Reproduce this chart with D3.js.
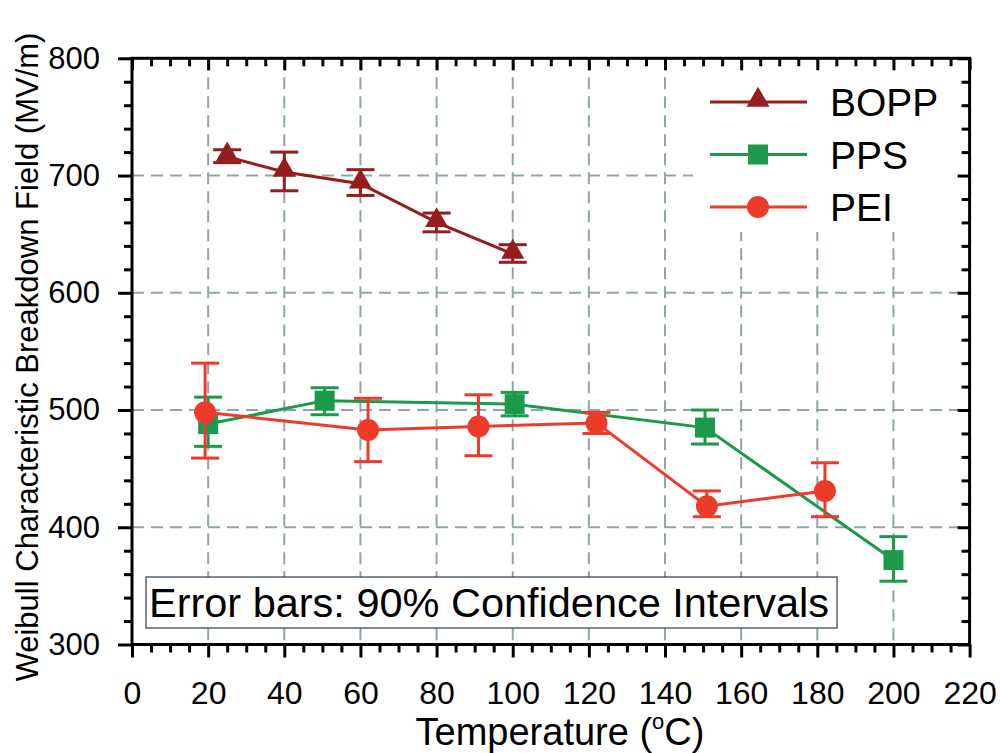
<!DOCTYPE html>
<html>
<head>
<meta charset="utf-8">
<script src="https://cdn.jsdelivr.net/npm/d3@7"></script>
<style>
  body { margin: 0; background: #fff; }
  svg { display: block; font-family: "Liberation Sans", Arial, sans-serif; }
</style>
</head>
<body>
<svg id="chart" width="1000" height="753"></svg>
<script>
// data
const boppT = [25, 40, 60, 80, 100]
const boppE = [716, 703, 693, 660, 633]
const boppLo = [711, 687, 683, 652, 626]
const boppHi = [722, 720, 705, 668, 641]

const ppsT = [20, 50.6, 100.5, 150.5, 200]
const ppsE = [488, 508, 505, 485, 372]
const ppsLo = [469, 496, 495, 471, 354]
const ppsHi = [511, 519, 515, 500, 392]

const peiT = [19.2, 62, 91, 122, 151, 182]
const peiE = [498, 483, 486, 489, 418, 431]
const peiLo = [459, 456, 461, 480, 409, 409]
const peiHi = [540, 510, 513, 498, 431, 455]

const xTicks = [0, 20, 40, 60, 80, 100, 120, 140, 160, 180, 200, 220]
const yTicks = [300, 400, 500, 600, 700, 800]

const seriesNames = ["BOPP", "PPS", "PEI"]
const seriesColors = ["#951c1f", "#1b9a4b", "#ee3a2b"]

let svg = d3.select("#chart")

let pLeft = 132, pRight = 969.6, pTop = 58.3, pBottom = 644.5

const x = d3.scaleLinear().domain([0, 220]).range([pLeft, pRight])
const y = d3.scaleLinear().domain([300, 800]).range([pBottom, pTop])

// GRID
let grid = svg.append("g").attr("stroke", "#8fa6a6").attr("stroke-width", 2)
    .attr("stroke-dasharray", "12,7")
grid.selectAll(".vg").data(xTicks.slice(1, -1)).enter().append("line")
    .attr("x1", d => x(d)).attr("x2", d => x(d)).attr("y1", pTop).attr("y2", pBottom)
grid.selectAll(".hg").data(yTicks.slice(1, -1)).enter().append("line")
    .attr("x1", pLeft).attr("x2", pRight).attr("y1", d => y(d)).attr("y2", d => y(d))

// legend background hides grid behind it
svg.append("rect").attr("x", 693).attr("y", 62).attr("width", 272).attr("height", 170).attr("fill", "#fff")

// AXES
const minorX = d3.range(0, 221, 5).filter(d => d % 20 != 0)
const minorY = d3.range(300, 801, 20).filter(d => d % 100 != 0)

function styleAxis(g) {
    g.select(".domain").remove()
    g.selectAll("line").attr("stroke", "#000").attr("stroke-width", 3)
}

svg.append("g").attr("transform", "translate(0," + pBottom + ")")
    .call(d3.axisBottom(x).tickValues(xTicks).tickSize(13).tickPadding(24).tickFormat(d3.format("d")))
    .call(styleAxis)
    .call(g => g.selectAll("text").attr("font-size", 32).attr("fill", "#000")
        .attr("font-family", "Liberation Sans, Arial, sans-serif"))
svg.append("g").attr("transform", "translate(0," + pBottom + ")")
    .call(d3.axisBottom(x).tickValues(minorX).tickSize(8).tickFormat(""))
    .call(styleAxis)

svg.append("g").attr("transform", "translate(" + pLeft + ",0)")
    .call(d3.axisLeft(y).tickValues(yTicks).tickSize(14).tickPadding(18).tickFormat(d3.format("d")))
    .call(styleAxis)
    .call(g => g.selectAll("text").attr("font-size", 31).attr("fill", "#000")
        .attr("font-family", "Liberation Sans, Arial, sans-serif"))
svg.append("g").attr("transform", "translate(" + pLeft + ",0)")
    .call(d3.axisLeft(y).tickValues(minorY).tickSize(8).tickFormat(""))
    .call(styleAxis)

svg.append("g").attr("transform", "translate(0," + pTop + ")")
    .call(d3.axisTop(x).tickValues(xTicks).tickSize(-12).tickFormat(""))
    .call(styleAxis)
svg.append("g").attr("transform", "translate(0," + pTop + ")")
    .call(d3.axisTop(x).tickValues(minorX).tickSize(-8).tickFormat(""))
    .call(styleAxis)

svg.append("g").attr("transform", "translate(" + pRight + ",0)")
    .call(d3.axisRight(y).tickValues(yTicks).tickSize(-12).tickFormat(""))
    .call(styleAxis)
svg.append("g").attr("transform", "translate(" + pRight + ",0)")
    .call(d3.axisRight(y).tickValues(minorY).tickSize(-8).tickFormat(""))
    .call(styleAxis)

// frame
svg.append("rect").attr("x", pLeft).attr("y", pTop).attr("width", pRight - pLeft).attr("height", pBottom - pTop)
    .attr("fill", "none").attr("stroke", "#000").attr("stroke-width", 3)
// END AXES

// markers
function drawMarker(g, kind, cx, cy, color) {
    if (kind == "BOPP") {
        g.append("path").attr("d", d3.symbol(d3.symbolTriangle, 230)())
            .attr("transform", "translate(" + cx + "," + (cy - 2) + ")").attr("fill", color)
    } else if (kind == "PPS") {
        g.append("rect").attr("x", cx - 10).attr("y", cy - 10).attr("width", 20).attr("height", 20).attr("fill", color)
    } else {
        g.append("circle").attr("cx", cx).attr("cy", cy).attr("r", 11).attr("fill", color)
    }
}

let allT = [boppT, ppsT, peiT]
let allE = [boppE, ppsE, peiE]
let allLo = [boppLo, ppsLo, peiLo]
let allHi = [boppHi, ppsHi, peiHi]

const line = d3.line().x(d => x(d[0])).y(d => y(d[1]))

for (let s = 0; s < 3; s++) {
    let color = seriesColors[s]
    let pts = allT[s].map((t, i) => [t, allE[s][i], allLo[s][i], allHi[s][i]])
    let g = svg.append("g")
    g.append("path").attr("d", line(pts)).attr("fill", "none").attr("stroke", color).attr("stroke-width", 3)
    for (let p of pts) {
        g.append("line").attr("x1", x(p[0])).attr("x2", x(p[0])).attr("y1", y(p[2])).attr("y2", y(p[3]))
            .attr("stroke", color).attr("stroke-width", 3)
        for (let v of [p[2], p[3]]) {
            g.append("line").attr("x1", x(p[0]) - 14).attr("x2", x(p[0]) + 14).attr("y1", y(v)).attr("y2", y(v))
                .attr("stroke", color).attr("stroke-width", 3)
        }
    }
    for (let p of pts) drawMarker(g, seriesNames[s], x(p[0]), y(p[1]), color)
}

// LEGEND
let legend = svg.append("g")
seriesNames.forEach((name, i) => {
    let base = 116 + i * 52.5
    let ly = base - 14
    legend.append("line").attr("x1", 710).attr("x2", 807).attr("y1", ly).attr("y2", ly)
        .attr("stroke", seriesColors[i]).attr("stroke-width", 3)
    drawMarker(legend, name, 758, ly, seriesColors[i])
    legend.append("text").text(name).attr("x", 830).attr("y", base)
        .attr("font-size", 39).attr("fill", "#000")
})

// note box
svg.append("rect").attr("x", 146).attr("y", 577).attr("width", 691).attr("height", 51)
    .attr("fill", "#fff").attr("stroke", "#2e3d4c").attr("stroke-width", 1.2)
svg.append("text").text("Error bars: 90% Confidence Intervals")
    .attr("x", 149).attr("y", 617).attr("font-size", 40).attr("fill", "#000")
    .attr("textLength", 680).attr("lengthAdjust", "spacingAndGlyphs")

// axis titles
let xt = svg.append("text").attr("x", 560).attr("y", 745).attr("text-anchor", "middle")
    .attr("font-size", 38).attr("fill", "#000")
xt.append("tspan").text("Temperature (")
xt.append("tspan").text("o").attr("font-size", 22).attr("dy", -16)
xt.append("tspan").text("C)").attr("dy", 16)

svg.append("text").text("Weibull Characteristic Breakdown Field (MV/m)")
    .attr("transform", "translate(38,357) rotate(-90)")
    .attr("text-anchor", "middle").attr("font-size", 31).attr("fill", "#000")
</script>
</body>
</html>
